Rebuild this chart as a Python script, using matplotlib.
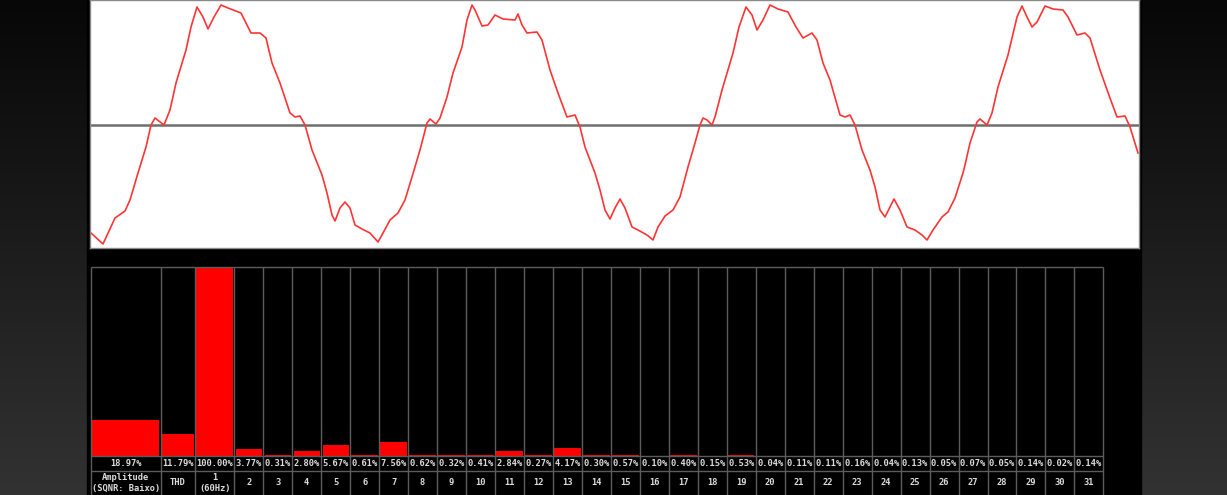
import numpy as np
import matplotlib
matplotlib.use("Agg")
import matplotlib.pyplot as plt
from matplotlib.colors import LinearSegmentedColormap
from matplotlib.patches import Rectangle

# ---------------- data ----------------
# waveform samples (sample index, relative amplitude)
wave_t = [1, 13, 25, 35, 40, 48, 56, 61, 65, 74,
          80, 86, 96, 101, 107, 113, 118, 124, 131, 138,
          151, 161, 170, 176, 182, 190, 200, 205, 210, 215,
          222, 232, 237, 242, 245, 250, 255, 260, 265, 272,
          280, 288, 293, 300, 308, 315, 322, 330, 337, 340,
          346, 350, 357, 363, 372, 377, 382, 385, 392, 398,
          405, 413, 425, 428, 432, 437, 447, 452, 460, 468,
          477, 485, 490, 495, 505, 510, 515, 520, 525, 530,
          535, 542, 548, 557, 563, 568, 575, 583, 590, 598,
          605, 610, 613, 617, 622, 625, 632, 643, 649, 656,
          662, 667, 673, 680, 688, 698, 706, 713, 722, 727,
          733, 740, 750, 755, 760, 765, 772, 780, 785, 790,
          795, 800, 804, 810, 817, 825, 832, 837, 843, 852,
          858, 865, 873, 875, 880, 887, 890, 897, 902, 908,
          918, 927, 932, 937, 942, 947, 955, 963, 973, 978,
          987, 995, 1000, 1010, 1020, 1027, 1035, 1040, 1048]
wave_a = [-108, -119, -93, -86, -75, -48, -22, 0, 7, 0,
          15, 42, 75, 98, 118, 108, 96, 108, 120, 117,
          112, 92, 92, 87, 62, 42, 12, 8, 9, 0,
          -25, -50, -68, -90, -96, -83, -77, -83, -100, -104,
          -108, -117, -108, -95, -88, -75, -52, -25, 2, 6,
          1, 7, 28, 52, 78, 105, 120, 115, 99, 100,
          110, 106, 105, 111, 100, 92, 93, 85, 55, 32,
          8, 10, -2, -22, -48, -65, -85, -94, -83, -74,
          -83, -102, -105, -110, -115, -102, -91, -85, -72, -42,
          -18, 0, 7, 5, 0, 8, 35, 72, 98, 118,
          110, 95, 105, 120, 116, 113, 98, 87, 92, 85,
          62, 45, 10, 8, 10, 0, -25, -45, -62, -85,
          -92, -82, -74, -85, -102, -105, -110, -115, -105, -92,
          -87, -73, -48, -40, -18, 3, 6, 0, 12, 38,
          70, 108, 119, 108, 98, 103, 119, 116, 115, 108,
          90, 92, 87, 55, 27, 8, 9, -2, -28]

categories = ["Amplitude\n(SQNR: Baixo)", "THD", "1\n(60Hz)"] + [str(k) for k in range(2, 32)]
percent_values = [18.97, 11.79, 100.00, 3.77, 0.31, 2.80, 5.67, 0.61, 7.56, 0.62, 0.32,
                  0.41, 2.84, 0.27, 4.17, 0.30, 0.57, 0.10, 0.40, 0.15, 0.53, 0.04, 0.11,
                  0.11, 0.16, 0.04, 0.13, 0.05, 0.07, 0.05, 0.14, 0.02, 0.14]

# ---------------- layout helpers ----------------
W, H = 1227, 495
fig = plt.figure(figsize=(W / 100, H / 100), dpi=100)


def rect(x0, y0, x1, y1):
    return [x0 / W, 1 - y1 / H, (x1 - x0) / W, (y1 - y0) / H]


# background gradient
bg = fig.add_axes([0, 0, 1, 1])
bg.set_axis_off()
grad_cmap = LinearSegmentedColormap.from_list("bg", ["#070707", "#323232"])
bg.imshow(np.linspace(0, 1, 256).reshape(-1, 1), aspect="auto", cmap=grad_cmap,
          extent=[0, 1, 0, 1], origin="upper")
bg.add_patch(Rectangle((87 / W, 0), (1141 - 87) / W, 1, color="black", zorder=2))
bg.set_xlim(0, 1)
bg.set_ylim(0, 1)

# ---------------- waveform ----------------
axw = fig.add_axes(rect(90, 0, 1139, 248))
axw.set_facecolor("white")
axw.axhline(0, color="#6e6e6e", lw=1.8, zorder=1)
axw.plot(wave_t, wave_a, color="#ff3434", lw=1.2, zorder=2, solid_joinstyle="round")
axw.set_xlim(0, 1049)
axw.set_ylim(-123, 125)
axw.set_xticks([])
axw.set_yticks([])
for s in axw.spines.values():
    s.set_color("#8a8a8a")
    s.set_linewidth(1)

# ---------------- harmonic table ----------------
col_widths = np.array([70.0, 34.3, 39.3] + [28.97] * 30)
edges = np.concatenate([[0], np.cumsum(col_widths)])
centers = (edges[:-1] + edges[1:]) / 2
total = edges[-1]

px_per_unit = (456 - 268.3) / 100.0
ymax = (456 - 266.7) / px_per_unit
ymin = -(495 - 456) / px_per_unit
y_row = -(470.5 - 456) / px_per_unit
y_val = -(463.3 - 456) / px_per_unit
y_lab = -(482.7 - 456) / px_per_unit

axt = fig.add_axes(rect(90.7, 266.7, 90.7 + total, 495))
axt.set_facecolor("black")
axt.set_xlim(0, total)
axt.set_ylim(ymin, ymax)
axt.set_axis_off()

axt.bar(centers, percent_values, width=col_widths - 2.6, color="#ff0000",
        linewidth=0, zorder=2)

grid_col = "#5c5c5c"
axt.vlines(edges, ymin, ymax, colors=grid_col, lw=1, zorder=3, clip_on=False)
axt.hlines([ymax, 0, y_row], 0, total, colors=grid_col, lw=1, zorder=3, clip_on=False)

font = dict(family="DejaVu Sans Mono", weight="bold", size=6.3, color="#dcdcdc",
            ha="center", va="center")
for cx, v, lab in zip(centers, percent_values, categories):
    axt.text(cx, y_val, f"{v:.2f}%", **font)
    axt.text(cx, y_lab, lab, linespacing=1.25, **font)

fig.savefig("out.png", dpi=100, facecolor="black")
